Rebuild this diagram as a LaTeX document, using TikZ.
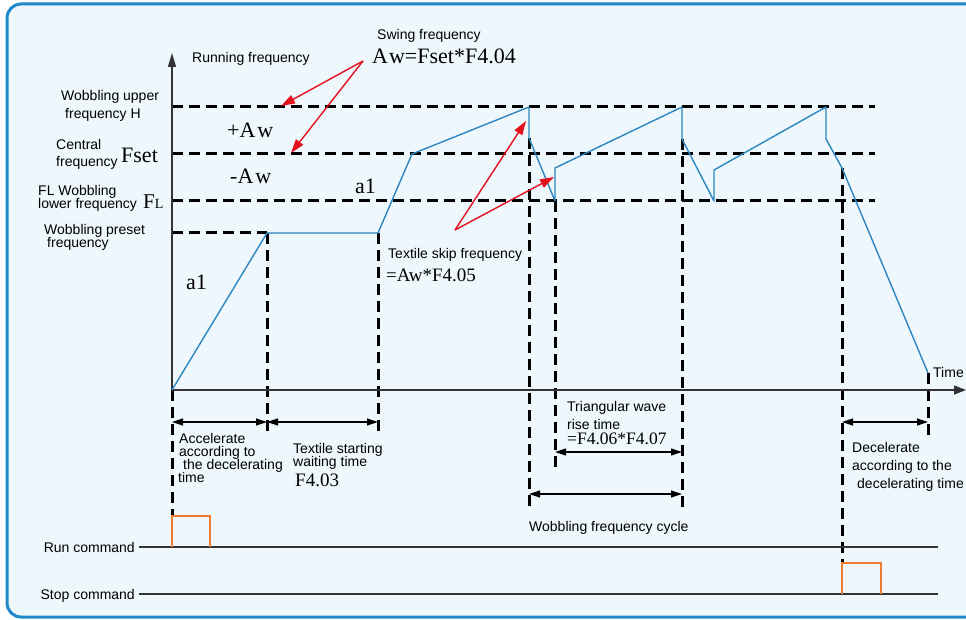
\documentclass[tikz,border=0pt]{standalone}
\usepackage{fontspec}
\setmainfont{Liberation Serif}
\setsansfont{Liberation Sans}
\usetikzlibrary{arrows.meta}
\definecolor{bgblue}{HTML}{EEF7FC}
\definecolor{frameblue}{HTML}{1E88C8}
\definecolor{curveblue}{HTML}{2C86C0}
\definecolor{arrred}{HTML}{E3101E}
\definecolor{pulseorange}{HTML}{EE7D31}
\definecolor{lngray}{HTML}{333333}
\begin{document}
\begin{tikzpicture}[x=1pt,y=-1pt,
  sflab/.style={font=\sffamily\fontsize{14}{13}\selectfont, inner sep=0pt, anchor=base west},
  sfright/.style={font=\sffamily\fontsize{14}{13}\selectfont, inner sep=0pt, anchor=base east},
  serbig/.style={font=\fontsize{22}{22}\selectfont, inner sep=0pt, anchor=base west},
  sermid/.style={font=\fontsize{19}{19}\selectfont, inner sep=0pt, anchor=base west},
  dsh/.style={line width=3pt, dash pattern=on 11pt off 6pt},
  curve/.style={draw=curveblue, line width=1.4pt, line join=round},
  redarr/.style={draw=arrred, line width=1.4pt, -{Triangle[length=14pt,width=9pt]}, arrred},
  dim/.style={line width=1.2pt, {Triangle[length=11pt,width=7pt]}-{Triangle[length=11pt,width=7pt]}},
  axis/.style={line width=1.3pt, draw=lngray},
  pulse/.style={draw=pulseorange, line width=1.4pt},
  cmdline/.style={draw=lngray, line width=1.2pt}]
\useasboundingbox (0,0) rectangle (966,620);
\clip (0,0) rectangle (966,620);
\fill[white] (0,0) rectangle (966,620);
\draw[fill=bgblue, draw=frameblue, line width=3pt, rounded corners=14pt] (7,4) rectangle (1000,617);

% key coordinates
\coordinate (O) at (172,390);
\coordinate (Ytop) at (172,53);
\coordinate (Xend) at (966,390);
\coordinate (p1) at (267,233);
\coordinate (p2) at (378,233);
\coordinate (p3) at (412,154);
\coordinate (p4) at (529,107);
\coordinate (p5) at (529,138);
\coordinate (p6) at (555,201);
\coordinate (p7) at (555,168);
\coordinate (p8) at (682,107);
\coordinate (p9) at (682,139);
\coordinate (p10) at (714,201);
\coordinate (p11) at (714,170);
\coordinate (p12) at (826,107);
\coordinate (p13) at (826,139);
\coordinate (p13b) at (842,168);
\coordinate (p14) at (928,373);

% horizontal dashed levels
\coordinate (Hl) at (172,107); \coordinate (Hr) at (875,107);
\coordinate (Fl) at (172,154); \coordinate (Fr) at (875,154);
\coordinate (Ll) at (172,201); \coordinate (Lr) at (875,201);
\coordinate (Pl) at (172,233);
\draw[dsh] (Hl) -- (Hr);
\draw[dsh] (Fl) -- (Fr);
\draw[dsh] (Ll) -- (Lr);
\draw[dsh] (Pl) -- (p1);

% vertical dashed lines
\coordinate (v0) at (172,515);
\coordinate (v1) at (267,437);
\coordinate (v2) at (378,437);
\coordinate (v4) at (529,510);
\coordinate (v6) at (555,467);
\coordinate (v9) at (682,510);
\coordinate (v13) at (842,562);
\coordinate (v14) at (928,438);
\draw[dsh] (O) -- (v0);
\draw[dsh] (p1) -- (v1);
\draw[dsh] (p2) -- (v2);
\draw[dsh] (p5) -- (v4);
\draw[dsh] (p6) -- (v6);
\draw[dsh] (p9) -- (v9);
\draw[dsh] (p13b) -- (v13);
\draw[dsh] (p14) -- (v14);

% axes
\draw[axis, -{Triangle[length=14pt,width=8pt]}] (O) -- (Ytop);
\draw[axis, -{Triangle[length=12pt,width=9pt]}] (O) -- (Xend);

% curve
\draw[curve] (O) -- (p1) -- (p2) -- (p3) -- (p4) -- (p5) -- (p6) -- (p7) -- (p8) -- (p9) -- (p10) -- (p11) -- (p12) -- (p13) -- (p13b) -- (p14);

% dimension arrows
\coordinate (d1a) at (172,422); \coordinate (d1b) at (267,422); \coordinate (d1c) at (378,422);
\draw[dim] (d1a) -- (d1b);
\draw[dim] (d1b) -- (d1c);
\coordinate (d2a) at (555,452); \coordinate (d2b) at (682,452);
\draw[dim] (d2a) -- (d2b);
\coordinate (d3a) at (529,494); \coordinate (d3b) at (682,494);
\draw[dim] (d3a) -- (d3b);
\coordinate (d4a) at (842,422); \coordinate (d4b) at (928,422);
\draw[dim] (d4a) -- (d4b);

% red arrows
\coordinate (sw) at (363,61);
\coordinate (swH) at (281,106);
\coordinate (swF) at (291,153);
\draw[redarr] (sw) -- (swH);
\draw[redarr] (sw) -- (swF);
\coordinate (ts) at (455,230);
\coordinate (ts1) at (526,121);
\coordinate (ts2) at (554,177);
\draw[redarr] (ts) -- (ts1);
\draw[redarr] (ts) -- (ts2);

% command lines and pulses
\coordinate (rl) at (139,547); \coordinate (rr) at (938,547);
\coordinate (sl) at (139,594); \coordinate (sr) at (938,594);
\draw[cmdline] (rl) -- (rr);
\draw[cmdline] (sl) -- (sr);
\coordinate (rp0) at (172,547); \coordinate (rp1) at (172,516); \coordinate (rp2) at (210,516); \coordinate (rp3) at (210,547);
\draw[pulse] (rp0) -- (rp1) -- (rp2) -- (rp3);
\coordinate (sp0) at (842,594); \coordinate (sp1) at (842,563); \coordinate (sp2) at (881,563); \coordinate (sp3) at (881,594);
\draw[pulse] (sp0) -- (sp1) -- (sp2) -- (sp3);

% labels
\node[sflab] (runf) at (192,63) {Running frequency};
\node[sflab] (wu1) at (61,101) {Wobbling upper};
\node[sflab] (wu2) at (65,119) {frequency H};
\node[sflab] (cf1) at (56,150) {Central};
\node[sflab] (cf2) at (56,167) {frequency};
\node[serbig] (fset) at (121,163) {Fset};
\node[sflab] (fl1) at (38,196) {FL Wobbling};
\node[sflab] (fl2) at (38,209) {lower frequency};
\node[inner sep=0pt, anchor=base west] (flsym) at (143,209) {{\fontsize{21}{21}\selectfont F}{\fontsize{14}{14}\selectfont L}};
\node[sflab] (wp1) at (44,235) {Wobbling preset};
\node[sflab] (wp2) at (47,248) {frequency};
\node[serbig] (paw) at (227,138) {+A\kern2pt w};
\node[serbig] (maw) at (230,184) {-A\kern2pt w};
\node[serbig] (a1u) at (355,194) {a1};
\node[serbig] (a1l) at (186,289) {a1};
\node[sflab] (swing) at (377,40) {Swing frequency};
\node[serbig] (awf) at (372,64) {A\kern1pt w=Fset*F4.04};
\node[sflab] (tsk) at (388,259) {Textile skip frequency};
\node[sermid] (tskf) at (386,282) {=Aw*F4.05};
\node[sflab] (ac1) at (179,443) {Accelerate};
\node[sflab] (ac2) at (179,456) {according to};
\node[sflab] (ac3) at (183,469) {the decelerating};
\node[sflab] (ac4) at (178,482) {time};
\node[sflab] (tw1) at (293,453) {Textile starting};
\node[sflab] (tw2) at (293,466) {waiting time};
\node[sermid] (tw3) at (295,486) {F4.03};
\node[sflab] (tr1) at (567,411) {Triangular wave};
\node[sflab] (tr2) at (567,429) {rise time};
\node[font=\fontsize{17.5}{17.5}\selectfont, inner sep=0pt, anchor=base west] (tr3) at (567,444) {=F4.06*F4.07};
\node[sflab] (wfc) at (529,531) {Wobbling frequency cycle};
\node[sflab] (time) at (933,377) {Time};
\node[sflab] (de1) at (852,452) {Decelerate};
\node[sflab] (de2) at (852,470) {according to the};
\node[sflab] (de3) at (857,488) {decelerating time};
\node[sfright] (runc) at (135,552) {Run command};
\node[sfright] (stopc) at (135,599) {Stop command};
\end{tikzpicture}
\end{document}
